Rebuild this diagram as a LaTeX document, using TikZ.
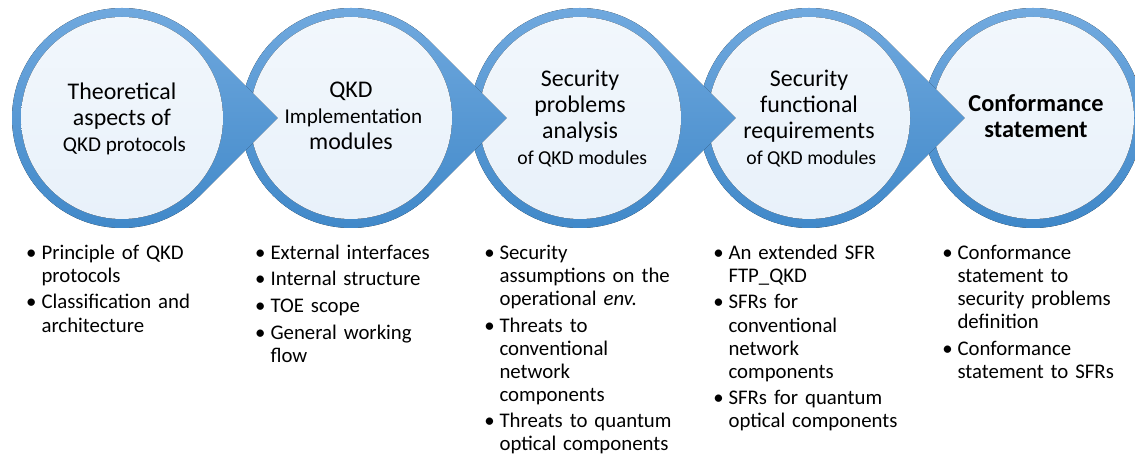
\documentclass[tikz,border=0pt]{standalone}
\usepackage{fontspec}
\setmainfont{Carlito}
\usepackage{enumitem}

\definecolor{ringtop}{RGB}{114,170,223}
\definecolor{ringbot}{RGB}{62,135,200}
\definecolor{paletop}{RGB}{242,247,252}
\definecolor{palebot}{RGB}{232,241,250}

\newcommand{\titlesz}{\fontsize{17}{18.5}\selectfont}
\newcommand{\subsz}[1]{\fontsize{#1}{18.5}\selectfont}
\newcommand{\boldsz}{\fontsize{17.3}{18.5}\selectfont\bfseries}

\setlist[itemize]{label=\textbullet, leftmargin=8pt, labelsep=3.5pt, topsep=0pt, partopsep=0pt, parsep=0pt, itemsep=2.5pt}

\tikzset{
  ring/.style={top color=ringtop, bottom color=ringbot, draw=none},
  pale/.style={top color=paletop, bottom color=palebot, draw=none},
  title/.style={align=center, inner sep=0pt, font=\titlesz, anchor=base},
  points/.style={text width=150pt, align=left, inner sep=0pt, anchor=north west, font=\fontsize{14.8}{16.4}\selectfont},
}

\begin{document}
\begin{tikzpicture}[x=0.025cm, y=0.025cm]
    \useasboundingbox (0,0) rectangle (1135,-457);
    \clip (0,0) rectangle (1135,-457);

    \fill[ring] (1033,-118) circle[radius=110]; % last step, no arrow
    \fill[pale] (1033,-118) circle[radius=101];

    % right to left, so each arrow lies over the next circle
    \foreach \cx in {809,580,351,122} {
        \fill[ring] (\cx,-118) ++(45:110) arc[start angle=45, end angle=315, radius=110]
            -- (\cx+155.6,-118) -- cycle;
        \fill[pale] (\cx,-118) circle[radius=101];
    }

    % anchor=base sits on the last line
    \node[title] (theory) at (122,-152) {Theoretical\\aspects of\\{\subsz{15} QKD protocols}};
    \node[title] (impl) at (351,-150) {QKD\\{\subsz{15} Implementation}\\modules};
    \node[title] (spd) at (580,-165) {Security\\problems\\analysis\\{\subsz{14} of QKD modules}};
    \node[title] (sfr) at (809,-165) {Security\\functional\\requirements\\{\subsz{14} of QKD modules}};
    \node[title, font=\boldsz] (conf) at (1036,-138) {Conformance\\statement};

    \node[points] (theory-list) at (30,-236) {
        \begin{itemize}
            \item Principle of QKD\\protocols
            \item Classification and\\architecture
        \end{itemize}};
    \node[points] (impl-list) at (259,-236) {
        \begin{itemize}
            \item External interfaces
            \item Internal structure
            \item TOE scope
            \item General working\\flow
        \end{itemize}};
    \node[points] (spd-list) at (488,-236) {
        \begin{itemize}
            \item Security\\assumptions on the\\operational \emph{env.}
            \item Threats to\\conventional\\network\\components
            \item Threats to quantum\\optical components
        \end{itemize}};
    \node[points] (sfr-list) at (717,-236) {
        \begin{itemize}
            \item An extended SFR\\FTP\_QKD
            \item SFRs for\\conventional\\network\\components
            \item SFRs for quantum\\optical components
        \end{itemize}};
    \node[points] (conf-list) at (946,-236) {
        \begin{itemize}
            \item Conformance\\statement to\\security problems\\definition
            \item Conformance\\statement to SFRs
        \end{itemize}};
\end{tikzpicture}
\end{document}
